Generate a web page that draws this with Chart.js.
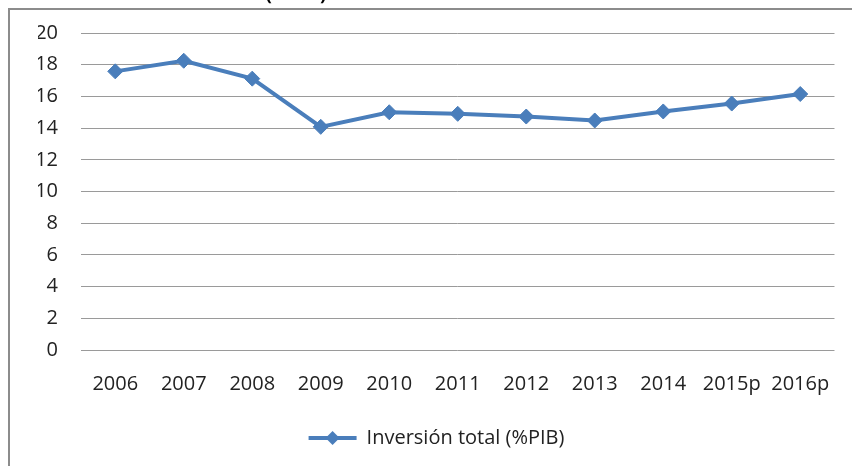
<!DOCTYPE html>
<html>
<head>
<meta charset="utf-8">
<script src="https://cdn.jsdelivr.net/npm/chart.js@4"></script>
<style>
  html, body { margin: 0; padding: 0; background: #fff; }
  #wrap { position: relative; width: 852px; height: 466px; }
</style>
</head>
<body>
<div id="wrap"><canvas id="c" width="852" height="466"></canvas></div>
<script>
const categories = ["2006", "2007", "2008", "2009", "2010", "2011", "2012", "2013", "2014", "2015p", "2016p"];
const inversionTotal = [17.58, 18.25, 17.12, 14.08, 15.0, 14.9, 14.73, 14.48, 15.05, 15.55, 16.15];
const seriesName = "Inversión total (%PIB)";
const titleFragment = "(%PIB)";
const yMin = 0, yMax = 20, yStep = 2;

const FONT = "'Open Sans', sans-serif";

const framePlugin = {
  id: 'frame',
  beforeDraw(chart) {
    const ctx = chart.ctx;
    ctx.save();
    ctx.fillStyle = '#fff';
    ctx.fillRect(0, 0, chart.width, chart.height);
    ctx.strokeStyle = '#8c8c8c';
    ctx.lineWidth = 2;
    ctx.beginPath();
    ctx.moveTo(9, chart.height + 5);
    ctx.lineTo(9, 9);
    ctx.lineTo(chart.width + 5, 9);
    ctx.stroke();
    ctx.fillStyle = '#000';
    ctx.font = "bold 19px " + FONT;
    ctx.textAlign = 'center';
    ctx.textBaseline = 'alphabetic';
    ctx.fillText(titleFragment, 296, 0);
    ctx.restore();
  }
};

new Chart(document.getElementById('c'), {
  type: 'line',
  data: {
    labels: categories,
    datasets: [{
      label: seriesName,
      data: inversionTotal,
      borderColor: '#4a7ebb',
      backgroundColor: '#4a7ebb',
      borderWidth: 4,
      pointStyle: 'rectRot',
      pointRadius: 7.5,
      pointHoverRadius: 7.5,
      pointBackgroundColor: '#4a7ebb',
      pointBorderColor: '#4a7ebb',
      pointBorderWidth: 1,
      tension: 0,
      fill: false
    }]
  },
  options: {
    responsive: false,
    animation: false,
    devicePixelRatio: 1,
    layout: { padding: { left: 38, right: 17, top: 33, bottom: 8 } },
    plugins: {
      legend: {
        position: 'bottom',
        labels: {
          usePointStyle: false,
          boxWidth: 48,
          boxHeight: 4,
          color: '#222',
          font: { family: FONT, size: 20 },
          padding: 8,
          generateLabels(chart) {
            const ds = chart.data.datasets[0];
            return [{
              text: ds.label,
              fillStyle: ds.borderColor,
              strokeStyle: ds.borderColor,
              lineWidth: 0,
              pointStyle: 'rectRot',
              datasetIndex: 0,
              fontColor: '#222'
            }];
          }
        }
      },
      tooltip: { enabled: false }
    },
    scales: {
      x: {
        offset: true,
        grid: { display: false, drawTicks: false },
        border: { display: false },
        ticks: { color: '#222', font: { family: FONT, size: 20 }, padding: 22, maxRotation: 0, autoSkip: false },
        afterFit(scale) { scale.height = 70; }
      },
      y: {
        min: yMin, max: yMax,
        grid: { color: '#9a9a9a', lineWidth: 1, drawTicks: false },
        border: { display: false },
        ticks: { stepSize: yStep, color: '#222', font: { family: FONT, size: 20 }, padding: 23 },
        afterFit(scale) { scale.width = 43; scale.paddingTop = 0; scale.paddingBottom = 0; }
      }
    }
  },
  plugins: [framePlugin, {
    id: 'legendDiamond',
    afterDraw(chart) {
      const lg = chart.legend;
      if (!lg || !lg.legendHitBoxes || !lg.legendHitBoxes.length) return;
      const hb = lg.legendHitBoxes[0];
      const ctx = chart.ctx;
      const cx = hb.left + 24, cy = hb.top + hb.height / 2;
      ctx.save();
      ctx.fillStyle = '#4a7ebb';
      ctx.beginPath();
      ctx.moveTo(cx, cy - 7);
      ctx.lineTo(cx + 7, cy);
      ctx.lineTo(cx, cy + 7);
      ctx.lineTo(cx - 7, cy);
      ctx.closePath();
      ctx.fill();
      ctx.restore();
    }
  }]
});
</script>
</body>
</html>
